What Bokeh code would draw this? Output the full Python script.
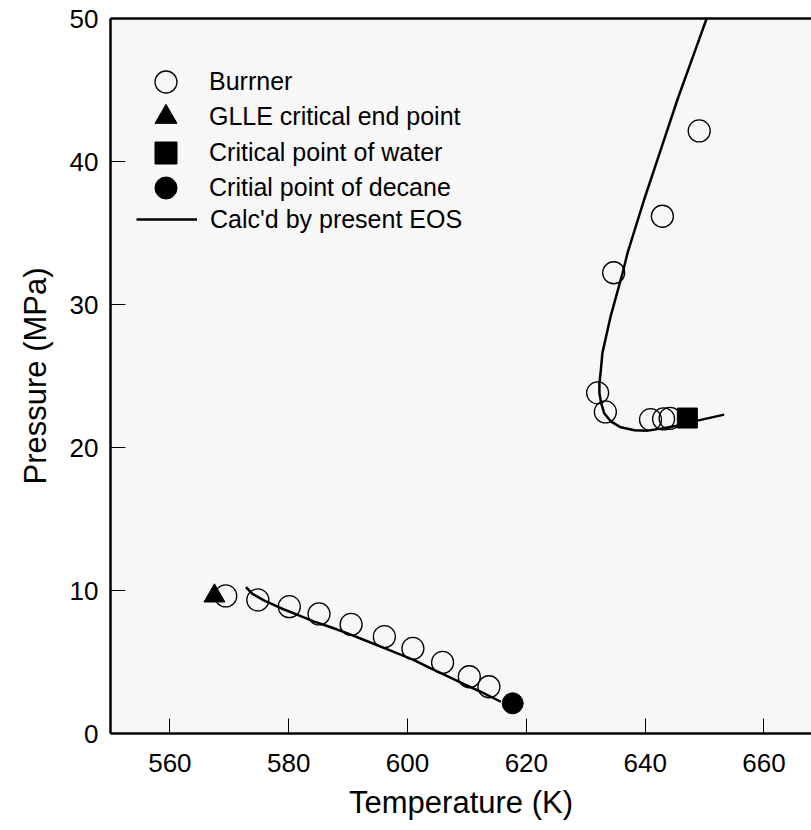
from bokeh.plotting import figure
from bokeh.models import Legend, LegendItem, LinearAxis, FixedTicker, Range1d
from bokeh.embed import file_html
from bokeh.resources import INLINE

# --- data -----------------------------------------------------------------
# Burrner three-phase points: decane-rich branch
burrner_low_T = [569.4, 574.8, 580.1, 585.1, 590.5, 596.1, 600.9, 605.9, 610.4, 613.7]
burrner_low_P = [9.62, 9.34, 8.87, 8.36, 7.63, 6.77, 5.95, 4.97, 3.97, 3.27]
# Burrner points: water-rich branch
burrner_high_T = [632.0, 633.3, 640.9, 643.1, 644.2, 634.7, 642.9, 649.1]
burrner_high_P = [23.82, 22.49, 21.95, 22.00, 22.04, 32.22, 36.17, 42.14]

# special points
glle_T = [567.5]
glle_P = [9.62]
water_T = [647.1]
water_P = [22.06]
decane_T = [617.7]
decane_P = [2.11]

# calculated critical curves (present EOS)
eos_low_T = [572.8, 573.9, 575.9, 578.7, 581.5, 584.3, 587.1, 589.9, 592.7,
             595.5, 598.3, 601.1, 603.9, 606.7, 609.5, 612.3, 615.7]
eos_low_P = [10.23, 9.76, 9.29, 8.76, 8.29, 7.82, 7.43, 7.00, 6.54,
             6.07, 5.60, 5.13, 4.55, 4.01, 3.45, 2.92, 2.22]
eos_high_T = [653.3, 648.8, 647.1, 644.9, 642.6, 640.4, 638.2, 635.9, 634.2,
              633.1, 632.6, 632.3, 632.3, 632.55, 632.8, 634.2, 636.2, 637.05,
              639.85, 642.66, 645.47, 648.27, 650.35]
eos_high_P = [22.30, 21.88, 21.72, 21.48, 21.32, 21.18, 21.20, 21.41, 21.83,
              22.40, 23.10, 23.80, 24.50, 25.45, 26.60, 29.19, 32.20, 33.63,
              37.36, 40.86, 44.37, 47.60, 50.00]

x_ticks = [560, 580, 600, 620, 640, 660]
y_ticks = [0, 10, 20, 30, 40, 50]

FONT = "Liberation Sans"

# --- figure -----------------------------------------------------------------
p = figure(width=811, height=830,
           x_range=Range1d(550, 668), y_range=Range1d(0, 50),
           output_backend="svg", toolbar_location=None,
           min_border_left=110, min_border_right=0,
           min_border_top=18, min_border_bottom=97,
           background_fill_color="#f7f7f7", border_fill_color="white",
           outline_line_color=None,
           x_axis_label="Temperature (K)", y_axis_label="Pressure (MPa)")
p.grid.visible = False

p.xaxis.ticker = FixedTicker(ticks=x_ticks)
p.yaxis.ticker = FixedTicker(ticks=y_ticks)
for ax in (p.xaxis[0], p.yaxis[0]):
    ax.axis_line_width = 2.5
    ax.axis_line_color = "black"
    ax.major_tick_in = 15
    ax.major_tick_out = 0
    ax.major_tick_line_width = 1
    ax.major_tick_line_color = "black"
    ax.minor_tick_line_color = None
    ax.major_label_text_font = FONT
    ax.major_label_text_font_size = "26px"
    ax.major_label_text_color = "black"
    ax.axis_label_text_font = FONT
    ax.axis_label_text_font_size = "31px"
    ax.axis_label_text_font_style = "normal"
    ax.axis_label_text_color = "black"
p.xaxis.major_label_standoff = 20
p.xaxis.axis_label_standoff = 10
p.yaxis.major_label_standoff = 12
p.yaxis.axis_label_standoff = 14

# top border line
top = LinearAxis(ticker=FixedTicker(ticks=[]), axis_line_width=2.5,
                 axis_line_color="black", major_tick_line_color=None,
                 minor_tick_line_color=None, major_label_text_font_size="0px")
p.add_layout(top, "above")

# --- glyphs -----------------------------------------------------------------
r_eos_low = p.line(eos_low_T, eos_low_P, line_color="black", line_width=2.5)
r_eos_high = p.line(eos_high_T, eos_high_P, line_color="black", line_width=2.5)

r_burr = p.scatter(burrner_low_T + burrner_high_T, burrner_low_P + burrner_high_P,
                   marker="circle", size=22, fill_color=None,
                   line_color="black", line_width=1.3)
r_glle = p.scatter(glle_T, glle_P, marker="triangle", size=21,
                   fill_color="black", line_color="black")
r_water = p.scatter(water_T, water_P, marker="square", size=20,
                    fill_color="black", line_color="black")
r_decane = p.scatter(decane_T, decane_P, marker="circle", size=21,
                     fill_color="black", line_color="black")

# --- legend (one box per entry so the rows can sit close together) ----------
legend_style = dict(padding=0, margin=0, background_fill_alpha=0,
                    border_line_color=None, label_text_font=FONT,
                    label_text_font_size="25px", label_text_color="black")

marker_entries = [
    ("Burrner", r_burr, 624),
    ("GLLE critical end point", r_glle, 589),
    ("Critical point of water", r_water, 553),
    ("Critial point of decane", r_decane, 518),
]
for label, renderer, offset in marker_entries:
    p.add_layout(Legend(items=[LegendItem(label=label, renderers=[renderer])],
                        location=(28, offset), glyph_width=55, glyph_height=55,
                        label_standoff=16, **legend_style))

p.add_layout(Legend(items=[LegendItem(label="Calc'd by present EOS",
                                      renderers=[r_eos_low])],
                    location=(26, 499), glyph_width=61, glyph_height=30,
                    label_standoff=13, **legend_style))

open("out.html", "w").write(file_html(p, INLINE))
